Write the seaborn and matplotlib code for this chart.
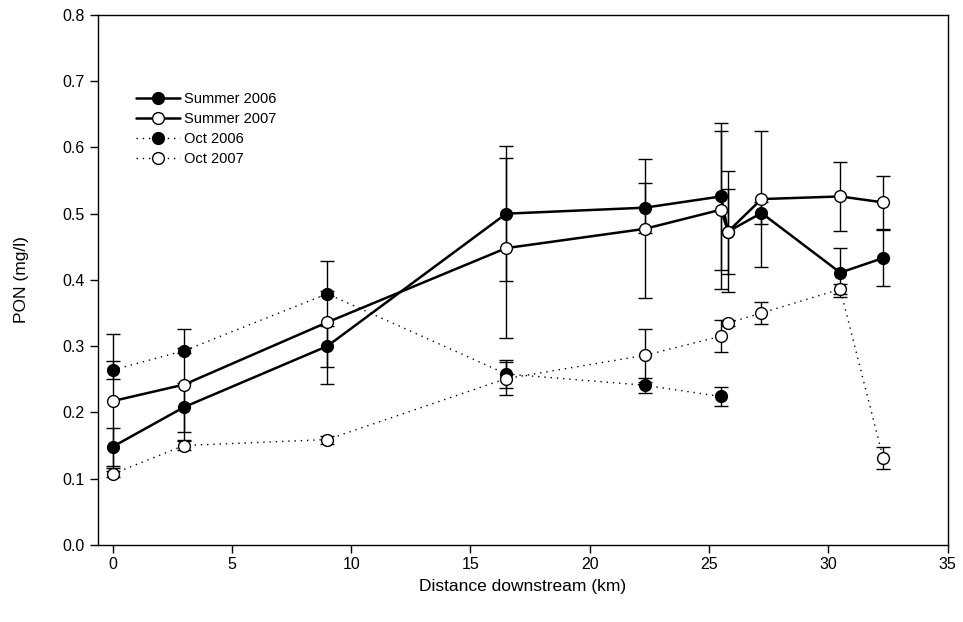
import matplotlib
matplotlib.use("Agg")
import matplotlib.pyplot as plt
import seaborn as sns
import pandas as pd
import numpy as np

# ---- data ----
x_summer = [0, 3, 9, 16.5, 22.3, 25.5, 25.8, 27.2, 30.5, 32.3]
s2006_y = [0.148, 0.208, 0.300, 0.500, 0.509, 0.526, 0.473, 0.501, 0.411, 0.433]
s2006_err = [0.029, 0.037, 0.031, 0.102, 0.038, 0.111, 0.064, 0.016, 0.037, 0.042]
s2007_y = [0.217, 0.242, 0.336, 0.448, 0.477, 0.506, 0.473, 0.522, 0.526, 0.517]
s2007_err = [0.101, 0.084, 0.093, 0.136, 0.105, 0.119, 0.092, 0.103, 0.052, 0.040]

x_oct06 = [0, 3, 9, 16.5, 22.3, 25.5]
o2006_y = [0.264, 0.293, 0.379, 0.258, 0.241, 0.224]
o2006_err = [0.013, 0.004, 0.004, 0.021, 0.011, 0.014]

x_oct07 = [0, 3, 9, 16.5, 22.3, 25.5, 25.8, 27.2, 30.5, 32.3]
o2007_y = [0.107, 0.150, 0.159, 0.251, 0.286, 0.315, 0.335, 0.350, 0.386, 0.131]
o2007_err = [0.005, 0.007, 0.006, 0.025, 0.040, 0.024, 0.004, 0.016, 0.008, 0.017]

x_ticks = [0, 5, 10, 15, 20, 25, 30, 35]
y_ticks = [0.0, 0.1, 0.2, 0.3, 0.4, 0.5, 0.6, 0.7, 0.8]

sns.set_theme(style="ticks")
plt.rcParams['font.family'] = ['Liberation Sans', 'DejaVu Sans']
plt.rcParams['text.color'] = 'black'
plt.rcParams['axes.labelcolor'] = 'black'
plt.rcParams['xtick.color'] = 'black'
plt.rcParams['ytick.color'] = 'black'

fig = plt.figure(figsize=(9.63, 6.22), dpi=100)
ax = fig.add_axes([0.102, 0.124, 0.882, 0.852])

series = [
    ("Summer 2006", x_summer, s2006_y, s2006_err, "black", "-", 1.8),
    ("Summer 2007", x_summer, s2007_y, s2007_err, "white", "-", 1.8),
    ("Oct 2006", x_oct06, o2006_y, o2006_err, "black", (0, (1, 3.5)), 1.0),
    ("Oct 2007", x_oct07, o2007_y, o2007_err, "white", (0, (1, 3.5)), 1.0),
]

for label, xs, ys, es, face, ls, lw in series:
    ax.errorbar(xs, ys, yerr=es, fmt='none', ecolor='black', elinewidth=1.0,
                capsize=5, capthick=1.0, zorder=2)
    df = pd.DataFrame({"x": xs, "y": ys})
    sns.lineplot(data=df, x="x", y="y", ax=ax, estimator=None, sort=False,
                 color="black", linestyle=ls, linewidth=lw, marker="o",
                 markersize=8.5, markerfacecolor=face, markeredgecolor="black",
                 markeredgewidth=1.0, label=label, zorder=3)

ax.set_xlim(-0.6, 35)
ax.set_ylim(0, 0.8)
ax.set_xticks(x_ticks)
ax.set_yticks(y_ticks)
ax.set_yticklabels([f"{v:.1f}" for v in y_ticks])
ax.tick_params(axis='both', which='both', direction='out', length=6, width=1,
               labelsize=11.5, top=False, right=False, colors='black', pad=4)
ax.tick_params(axis='x', pad=3)
for sp in ax.spines.values():
    sp.set_visible(True)
    sp.set_color('black')
    sp.set_linewidth(1.0)

ax.set_xlabel("Distance downstream (km)", fontsize=12.5, labelpad=5, color='black')
ax.set_ylabel("PON (mg/l)", fontsize=12.5, labelpad=24, color='black')

leg = ax.legend(loc="upper left", bbox_to_anchor=(0.038, 0.865), frameon=False,
                fontsize=10.5, handlelength=3.0, labelspacing=0.4,
                handletextpad=0.3, borderaxespad=0, labelcolor='black')

fig.savefig("out.png", dpi=100)
